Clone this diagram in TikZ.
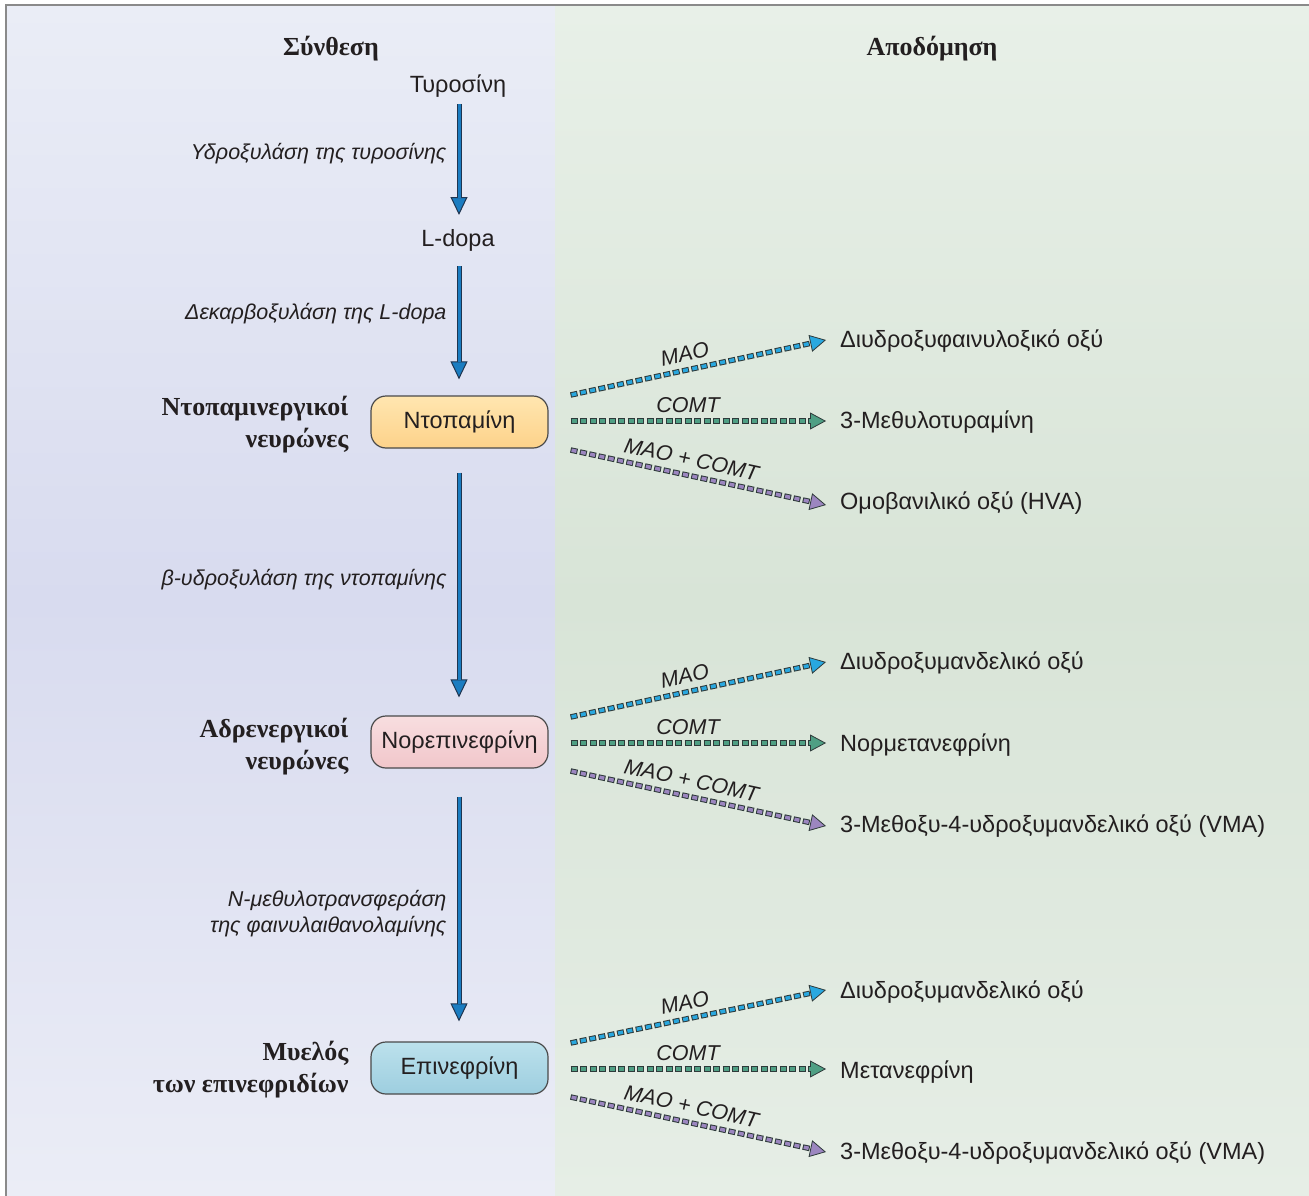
\documentclass[tikz,border=0pt]{standalone}
\usepackage{fontspec}
\setmainfont{Liberation Serif}
\setsansfont{Liberation Sans}
\usetikzlibrary{arrows.meta,calc}

\definecolor{ink}{HTML}{231F20}
\definecolor{frame}{HTML}{8A8A8A}
\definecolor{lefttop}{HTML}{EAEDF6}
\definecolor{leftmid}{HTML}{D8DBEF}
\definecolor{leftbot}{HTML}{EBEDF6}
\definecolor{righttop}{HTML}{E8F0E8}
\definecolor{rightmid}{HTML}{D8E4D7}
\definecolor{rightbot}{HTML}{E6EEE6}
\definecolor{vblue}{HTML}{1B7DC1}
\definecolor{vdark}{HTML}{1F3550}
\definecolor{mao}{HTML}{29A8E0}
\definecolor{comt}{HTML}{4F9F84}
\definecolor{both}{HTML}{9C86C0}
\definecolor{ddark}{HTML}{2E3A3A}
\definecolor{orangetop}{HTML}{FFE6B0}
\definecolor{orangebot}{HTML}{FDD28A}
\definecolor{pinktop}{HTML}{F8DEE0}
\definecolor{pinkbot}{HTML}{F1C6CA}
\definecolor{bluetop}{HTML}{BCE1EC}
\definecolor{bluebot}{HTML}{9DCEDF}
\definecolor{boxline}{HTML}{4A4A4A}

% synthesis step: blue shaft with dark rim and filled head
\newcommand\synarrow[2]{%
  \draw[line width=5pt, draw=vdark,
        -{Triangle[length=18pt,width=17pt,fill=vblue,line width=1pt]}] #1 -- #2;
  \draw[line width=3pt, draw=vblue, shorten >=17pt] #1 -- #2;}

% breakdown step: chain of small outlined squares, #1 colour, #4 enzyme label
\newcommand\degarrow[4]{%
  \draw[line width=5.5pt, draw=ddark, dash pattern=on 7pt off 2.5pt,
        -{Triangle[length=16pt,width=17pt,fill=#1,line width=0.8pt]}] #2 -- #3;
  \draw[line width=3.5pt, draw=#1, dash pattern=on 0pt off 1pt on 5pt off 3.5pt,
        shorten >=15pt] #2 -- node[enzyme, pos=0.46, above=6pt, sloped] {#4} #3;}

\begin{document}
\begin{tikzpicture}[x=1pt, y=-1pt,
  head/.style={font=\fontsize{26}{30}\selectfont\bfseries, text=ink},
  group/.style={font=\fontsize{26}{32}\selectfont\bfseries, text=ink, align=right, anchor=east},
  lbl/.style={font=\sffamily\fontsize{23.5}{28}\selectfont, text=ink},
  stepname/.style={font=\sffamily\itshape\fontsize{21.5}{26}\selectfont, text=ink, align=right, anchor=east},
  enzyme/.style={font=\sffamily\itshape\fontsize{21.5}{24}\selectfont, text=ink, inner sep=1pt},
  product/.style={font=\sffamily\fontsize{23.5}{28}\selectfont, text=ink, anchor=west, inner sep=2pt},
  compound/.style={font=\sffamily\fontsize{23.5}{28}\selectfont, text=ink, draw=boxline, line width=1.2pt,
    rounded corners=15pt, minimum width=177pt, minimum height=52pt, inner sep=0pt}]
\useasboundingbox (0,0) rectangle (1309,1196);

% two panels and frame (middle color must follow top and bottom)
\shade[top color=lefttop, bottom color=leftbot, middle color=leftmid] (7,6) rectangle (555,1196);
\shade[top color=righttop, bottom color=rightbot, middle color=rightmid] (555,6) rectangle (1309,1196);
\draw[frame, line width=2.5pt] (6,1196) -- (6,5) -- (1309,5);

% headings
\node[head] (synth) at (331,49) {Σύνθεση};
\node[head] (apod) at (932,49) {Αποδόμηση};

% synthesis chain
\node[lbl] (tyr) at (458,86) {Τυροσίνη};
\node[lbl] (ldopa) at (458,240) {L-dopa};
\node[compound, top color=orangetop, bottom color=orangebot] (dop) at (459.5,422) {Ντοπαμίνη};
\node[compound, top color=pinktop, bottom color=pinkbot] (nor) at (459.5,742) {Νορεπινεφρίνη};
\node[compound, top color=bluetop, bottom color=bluebot] (epi) at (459.5,1068) {Επινεφρίνη};

\synarrow{($(tyr.center)+(1,18)$)}{($(ldopa.center)+(1,-25)$)}
\synarrow{($(ldopa.center)+(1,26)$)}{($(dop.north)+(-0.5,-16)$)}
\synarrow{($(dop.south)+(-0.5,24)$)}{($(nor.north)+(-0.5,-18)$)}
\synarrow{($(nor.south)+(-0.5,28)$)}{($(epi.north)+(-0.5,-20)$)}

\node[stepname] (s1) at (450,154) {Υδροξυλάση της τυροσίνης};
\node[stepname] (s2) at (450,314) {Δεκαρβοξυλάση της L-dopa};
\node[stepname] (s3) at (450,580) {β-υδροξυλάση της ντοπαμίνης};
\node[stepname] (s4) at (450,914) {Ν-μεθυλοτρανσφεράση\\της φαινυλαιθανολαμίνης};

% cell groups
\node[group] (g1) at (352,425) {Ντοπαμινεργικοί\\νευρώνες};
\node[group] (g2) at (352,747) {Αδρενεργικοί\\νευρώνες};
\node[group] (g3) at (352,1070) {Μυελός\\των επινεφριδίων};

% breakdown products
\node[product] (d1) at (838,341) {Διυδροξυφαινυλοξικό οξύ};
\node[product] (d2) at (838,422) {3-Μεθυλοτυραμίνη};
\node[product] (d3) at (838,503) {Ομοβανιλικό οξύ (HVA)};
\node[product] (n1) at (838,663) {Διυδροξυμανδελικό οξύ};
\node[product] (n2) at (838,745) {Νορμετανεφρίνη};
\node[product] (n3) at (838,826) {3-Μεθοξυ-4-υδροξυμανδελικό οξύ (VMA)};
\node[product] (e1) at (838,992) {Διυδροξυμανδελικό οξύ};
\node[product] (e2) at (838,1072) {Μετανεφρίνη};
\node[product] (e3) at (838,1153) {3-Μεθοξυ-4-υδροξυμανδελικό οξύ (VMA)};

% breakdown routes
\degarrow{mao}{($(dop.east)+(22,-27)$)}{($(d1.west)+(-12,-1)$)}{MAO}
\degarrow{comt}{($(dop.east)+(22,-1)$)}{($(d2.west)+(-12,-1)$)}{COMT}
\degarrow{both}{($(dop.east)+(22,28)$)}{($(d3.west)+(-12,2)$)}{MAO + COMT}

\degarrow{mao}{($(nor.east)+(22,-25)$)}{($(n1.west)+(-12,-1)$)}{MAO}
\degarrow{comt}{($(nor.east)+(22,1)$)}{($(n2.west)+(-12,-2)$)}{COMT}
\degarrow{both}{($(nor.east)+(22,29)$)}{($(n3.west)+(-12,0)$)}{MAO + COMT}

\degarrow{mao}{($(epi.east)+(22,-25)$)}{($(e1.west)+(-12,-2)$)}{MAO}
\degarrow{comt}{($(epi.east)+(22,1)$)}{($(e2.west)+(-12,-3)$)}{COMT}
\degarrow{both}{($(epi.east)+(22,29)$)}{($(e3.west)+(-12,-1)$)}{MAO + COMT}
\end{tikzpicture}
\end{document}
